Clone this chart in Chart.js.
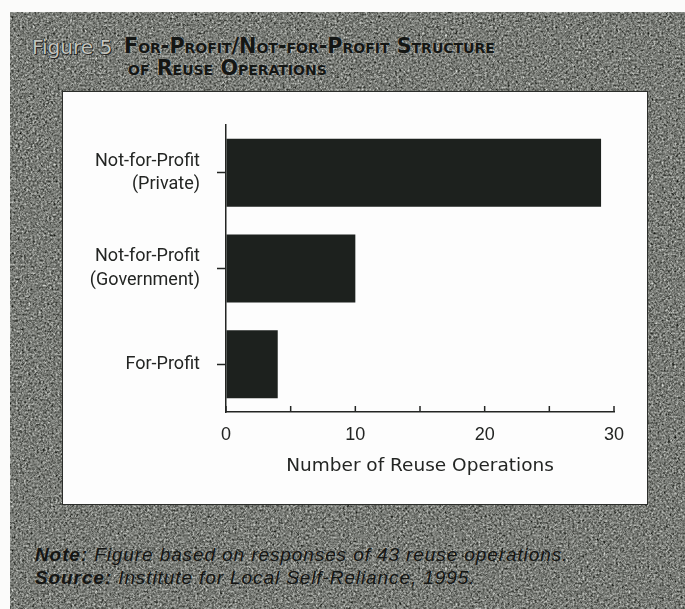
<!DOCTYPE html>
<html>
<head>
<meta charset="utf-8">
<script src="https://cdn.jsdelivr.net/npm/chart.js@4.4.1/dist/chart.umd.min.js"></script>
<style>
  html, body { margin: 0; padding: 0; background: #fbfbfa; }
  body { width: 685px; height: 609px; position: relative; overflow: hidden; }
  #panel { position: absolute; left: 10px; top: 12px; width: 675px; height: 597px; }
  #panel svg { position: absolute; left: 0; top: 0; }
  .title { position: absolute; white-space: nowrap; }
  #figNo {
    left: 32px; top: 35px; font: 20px 'DejaVu Sans'; color: #c4c5bf;
    text-shadow: 0 0 1px #1c1c1c, 0 0 1px #1c1c1c, 1px 1px 0 #2a2a2a;
  }
  .caps {
    font: bold 20.7px 'DejaVu Sans'; font-variant: small-caps; color: #141614;
    text-shadow: 0 0 2px rgba(235,235,230,0.5);
  }
  #line1 { left: 124px; top: 34px; }
  #line2 { left: 128px; top: 56px; }
  #box {
    position: absolute; left: 62px; top: 91px; width: 584px; height: 412px;
    border: 1px solid #2b2d2a; background: #fdfdfd;
  }
  #box canvas { display: block; }
  .note {
    position: absolute; left: 35px; font: italic 19px 'Liberation Sans'; letter-spacing: 0.9px;
    color: #141513; white-space: nowrap;
  }
  .note b { font-weight: bold; }
  #note { top: 544px; }
  #source { top: 567px; }
</style>
</head>
<body>
<div id="panel">
  <svg width="675" height="597">
    <filter id="grain" x="0" y="0" width="100%" height="100%" color-interpolation-filters="sRGB">
      <feTurbulence type="fractalNoise" baseFrequency="0.48" numOctaves="3" seed="7"/>
      <feColorMatrix type="matrix" values="0.52 0.52 0.52 0 -0.31  0.52 0.52 0.52 0 -0.30  0.52 0.52 0.52 0 -0.32  0 0 0 0 1"/>
    </filter>
    <rect width="675" height="597" fill="#7a7c77"/>
    <rect width="675" height="597" filter="url(#grain)"/>
  </svg>
</div>
<div class="title" id="figNo">Figure 5</div>
<div class="title caps" id="line1">For-Profit/Not-for-Profit Structure</div>
<div class="title caps" id="line2">of Reuse Operations</div>
<div id="box"><canvas id="chart" width="584" height="412"></canvas></div>
<div class="note" id="note"><b>Note:</b> Figure based on responses of 43 reuse operations.</div>
<div class="note" id="source"><b>Source:</b> Institute for Local Self-Reliance, 1995.</div>

<script>
document.addEventListener('DOMContentLoaded', () => {
    // Operation types and how many of the surveyed operations fall in each
    const categories = [['Not-for-Profit', '(Private)'], ['Not-for-Profit', '(Government)'], 'For-Profit'];
    const operationCounts = [29, 10, 4];
    const xTickLabels = [0, 10, 20, 30];

    const ink = '#232523';

    // Short tick marks pointing up into the plot from the x axis
    const innerTicks = {
        id: 'innerTicks',
        afterDraw(chart) {
            const x = chart.scales.x;
            const ctx = chart.ctx;
            ctx.save();
            ctx.strokeStyle = ink;
            ctx.lineWidth = 1.5;
            x.ticks.forEach(t => {
                const px = x.getPixelForValue(t.value);
                ctx.beginPath();
                ctx.moveTo(px, x.top);
                ctx.lineTo(px, x.top - 6);
                ctx.stroke();
            });
            ctx.restore();
        }
    };

    new Chart(document.getElementById('chart').getContext('2d'), {
        type: 'bar',
        data: {
            labels: categories,
            datasets: [{
                data: operationCounts,
                backgroundColor: '#1d211e',
                borderWidth: 0,
                categoryPercentage: 1,
                barPercentage: 0.71
            }]
        },
        options: {
            indexAxis: 'y',
            responsive: false,
            animation: false,
            layout: { padding: { top: 33, right: 33, left: 0, bottom: 0 } },
            plugins: { legend: { display: false }, tooltip: { enabled: false } },
            scales: {
                x: {
                    min: 0,
                    max: 30,
                    afterFit: s => { s.height = 92; },
                    border: { color: ink, width: 1.5 },
                    grid: { drawOnChartArea: false, drawTicks: false },
                    ticks: {
                        stepSize: 5,
                        padding: 12,
                        color: ink,
                        font: { family: 'Liberation Sans', size: 18 },
                        callback: v => xTickLabels.includes(v) ? v : ''
                    },
                    title: {
                        display: true,
                        text: 'Number of Reuse Operations',
                        color: ink,
                        font: { family: 'DejaVu Sans', size: 18.5 },
                        padding: { top: 0, bottom: 27 }
                    }
                },
                y: {
                    afterFit: s => { s.width = 163; },
                    border: { color: ink, width: 1.5 },
                    grid: {
                        offset: false,
                        drawOnChartArea: false,
                        drawTicks: true,
                        tickLength: 9,
                        tickColor: ink,
                        tickWidth: 1.5
                    },
                    ticks: {
                        padding: 17,
                        color: ink,
                        font: { family: 'Roboto', size: 18, lineHeight: 1.28 }
                    }
                }
            }
        },
        plugins: [innerTicks]
    });
});
</script>
</body>
</html>
